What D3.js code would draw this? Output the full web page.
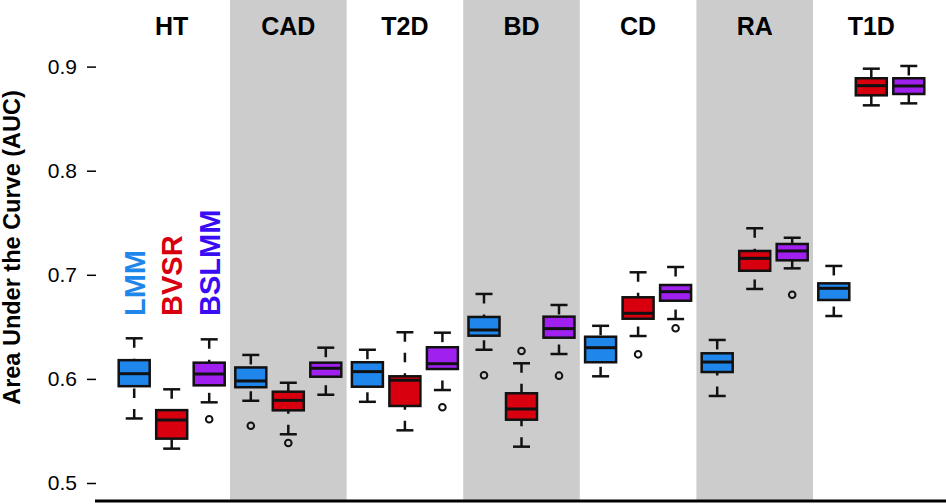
<!DOCTYPE html>
<html>
<head>
<meta charset="utf-8">
<script src="https://cdn.jsdelivr.net/npm/d3@7"></script>
<style>
  body { margin: 0; background: #fff; }
  svg { display: block; font-family: "Liberation Sans", Arial, sans-serif; }
</style>
</head>
<body>
<svg id="chart" width="946" height="504"></svg>
<script>
// diseases along the top, methods inside each panel
const diseases = ['HT', 'CAD', 'T2D', 'BD', 'CD', 'RA', 'T1D'];
const methods = ['LMM', 'BVSR', 'BSLMM'];
const yTicks = [0.5, 0.6, 0.7, 0.8, 0.9];

// [lower whisker, Q1, median, Q3, upper whisker] per disease
const lmmStats = [
  [0.562, 0.593, 0.605, 0.618, 0.639],
  [0.579, 0.592, 0.598, 0.611, 0.623],
  [0.578, 0.5925, 0.607, 0.616, 0.628],
  [0.628, 0.6415, 0.647, 0.6595, 0.6816],
  [0.6025, 0.616, 0.630, 0.6405, 0.651],
  [0.5836, 0.6066, 0.6162, 0.6246, 0.6374],
  [0.6604, 0.6758, 0.687, 0.6918, 0.7085]
];
const bvsrStats = [
  [0.533, 0.5426, 0.5605, 0.570, 0.590],
  [0.5468, 0.5698, 0.5794, 0.5877, 0.5963],
  [0.5506, 0.574, 0.5987, 0.6025, 0.6448],
  [0.5349, 0.5608, 0.5711, 0.5862, 0.615],
  [0.6412, 0.6578, 0.663, 0.6784, 0.7024],
  [0.6864, 0.7039, 0.7158, 0.7229, 0.7447],
  [0.8628, 0.8724, 0.8817, 0.8888, 0.898]
];
const bslmmStats = [
  [0.5775, 0.5938, 0.6047, 0.6156, 0.638],
  [0.5848, 0.6021, 0.6102, 0.6156, 0.630],
  [0.5893, 0.6095, 0.6146, 0.6304, 0.6444],
  [0.6239, 0.6396, 0.6483, 0.6598, 0.671],
  [0.6575, 0.6751, 0.6838, 0.6902, 0.7075],
  [0.7062, 0.7139, 0.7229, 0.7296, 0.7356],
  [0.8647, 0.8737, 0.8814, 0.8888, 0.9006]
];

// outliers per disease
const lmmOut = [[], [0.555], [], [0.6035], [], [], []];
const bvsrOut = [[], [0.5384], [], [0.6268], [0.6236], [], []];
const bslmmOut = [[0.5612], [], [0.5727], [0.6031], [0.6486], [0.6809], []];

const fills = { LMM: '#1f86ec', BVSR: '#d8000f', BSLMM: '#a020f0' };
const labelColors = { LMM: '#1f86ec', BVSR: '#d8000f', BSLMM: '#3a0bf5' };

const statsBy = { LMM: lmmStats, BVSR: bvsrStats, BSLMM: bslmmStats };
const outBy = { LMM: lmmOut, BVSR: bvsrOut, BSLMM: bslmmOut };

const boxes = [];
diseases.forEach((d, i) => {
  methods.forEach(m => {
    const s = statsBy[m][i];
    boxes.push({ disease: d, method: m, lo: s[0], q1: s[1], med: s[2], q3: s[3], hi: s[4], out: outBy[m][i] });
  });
});

const svg = d3.select('#chart');
const plotBottom = 500;

const x = d3.scaleBand().domain(diseases).range([113.4, 929.6]).padding(0);
const xm = d3.scalePoint().domain(methods).range([-37.5, 37.5]);
const y = d3.scaleLinear().domain([0.5, 0.9]).range([483, 66.6]);

const cx = b => x(b.disease) + x.bandwidth() / 2 + xm(b.method);

// grey panels for every other disease
svg.append('g')
  .selectAll('rect')
  .data(diseases.filter((d, i) => i % 2 === 1))
  .join('rect')
  .attr('x', d => x(d))
  .attr('y', 0)
  .attr('width', x.bandwidth())
  .attr('height', plotBottom)
  .attr('fill', '#cccccc');

// disease titles
svg.append('g')
  .selectAll('text')
  .data(diseases)
  .join('text')
  .attr('x', d => x(d) + x.bandwidth() / 2)
  .attr('y', 35)
  .attr('text-anchor', 'middle')
  .attr('font-size', 25)
  .attr('font-weight', 'bold')
  .attr('fill', '#000')
  .text(d => d);

// y axis, ticks only
const yAxis = svg.append('g')
  .attr('transform', 'translate(96,0)')
  .call(d3.axisLeft(y).tickValues(yTicks).tickFormat(d3.format('.1f')).tickSize(9).tickPadding(10));
yAxis.select('.domain').remove();
yAxis.selectAll('line').attr('stroke', '#000').attr('stroke-width', 1.5);
yAxis.selectAll('text').attr('font-size', 21).attr('fill', '#000')
  .attr('font-family', '"Liberation Sans", Arial, sans-serif');

svg.append('text')
  .attr('transform', 'translate(20,247.5) rotate(-90)')
  .attr('text-anchor', 'middle')
  .attr('font-size', 23.5)
  .attr('font-weight', 'bold')
  .text('Area Under the Curve (AUC)');

// bottom line
svg.append('line')
  .attr('x1', 95).attr('x2', 946)
  .attr('y1', plotBottom + 1).attr('y2', plotBottom + 1)
  .attr('stroke', '#000').attr('stroke-width', 3);

// boxplots
const boxW = 31, capW = 17;
const g = svg.append('g')
  .selectAll('g')
  .data(boxes)
  .join('g');

// whiskers drawn from cap to box edge, dashed
g.append('line')
  .attr('x1', cx).attr('x2', cx)
  .attr('y1', d => y(d.hi)).attr('y2', d => y(d.q3))
  .attr('stroke', '#111').attr('stroke-width', 2.5).attr('stroke-dasharray', '9.5,11');
g.append('line')
  .attr('x1', cx).attr('x2', cx)
  .attr('y1', d => y(d.lo)).attr('y2', d => y(d.q1))
  .attr('stroke', '#111').attr('stroke-width', 2.5).attr('stroke-dasharray', '9.5,11');

g.selectAll('line.cap')
  .data(d => [d.lo, d.hi].map(v => ({ b: d, v })))
  .join('line')
  .attr('class', 'cap')
  .attr('x1', d => cx(d.b) - capW / 2).attr('x2', d => cx(d.b) + capW / 2)
  .attr('y1', d => y(d.v)).attr('y2', d => y(d.v))
  .attr('stroke', '#111').attr('stroke-width', 2.5);

g.append('rect')
  .attr('x', d => cx(d) - boxW / 2)
  .attr('y', d => y(d.q3))
  .attr('width', boxW)
  .attr('height', d => y(d.q1) - y(d.q3))
  .attr('fill', d => fills[d.method])
  .attr('stroke', '#111')
  .attr('stroke-width', 2.5);

g.append('line')
  .attr('x1', d => cx(d) - boxW / 2).attr('x2', d => cx(d) + boxW / 2)
  .attr('y1', d => y(d.med)).attr('y2', d => y(d.med))
  .attr('stroke', '#111').attr('stroke-width', 3);

g.selectAll('circle')
  .data(d => d.out.map(v => ({ b: d, v })))
  .join('circle')
  .attr('cx', d => cx(d.b))
  .attr('cy', d => y(d.v))
  .attr('r', 3.3)
  .attr('fill', 'none')
  .attr('stroke', '#111')
  .attr('stroke-width', 2);

// method labels in the first panel
svg.append('g')
  .selectAll('text')
  .data(methods)
  .join('text')
  .attr('transform', m => `translate(${x('HT') + x.bandwidth() / 2 + xm(m)},316) rotate(-90)`)
  .attr('dy', '0.36em')
  .attr('font-size', 29)
  .attr('font-weight', 'bold')
  .attr('fill', m => labelColors[m])
  .text(m => m);
</script>
</body>
</html>
